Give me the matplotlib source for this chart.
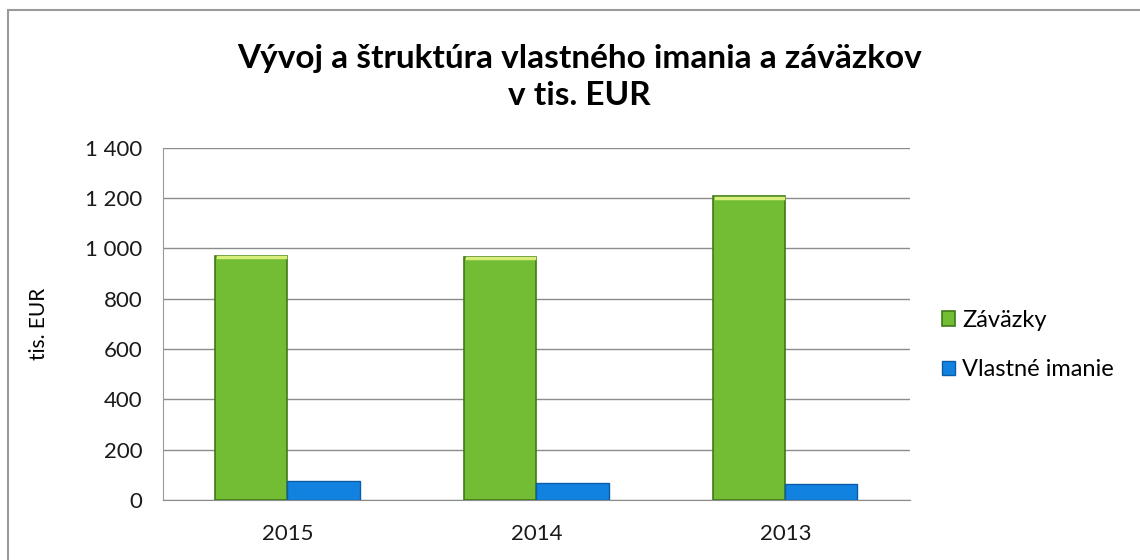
import matplotlib
matplotlib.use("Agg")
import matplotlib.pyplot as plt
import numpy as np
from matplotlib.patches import Rectangle
from matplotlib.ticker import FuncFormatter

plt.rcParams['font.family'] = ['Lato', 'DejaVu Sans']

years = ['2015', '2014', '2013']
zavazky = [972, 968, 1207]
vlastne_imanie = [76, 66, 62]

fig = plt.figure(figsize=(11.4, 5.6), dpi=100)
ax = fig.add_axes([0.143, 0.107, 0.655, 0.629])

x = np.arange(len(years))
w = 0.29
ax.bar(x - w / 2, zavazky, w, color='#72BD34', edgecolor='#3F7A16', linewidth=1.2,
       label='Záväzky', zorder=3)
ax.bar(x + w / 2, vlastne_imanie, w, color='#1282E0', edgecolor='#0B5DA8', linewidth=1.0,
       label='Vlastné imanie', zorder=3)
# light top edge on green bars
for xi, v in zip(x, zavazky):
    ax.plot([xi - w + 0.01, xi - 0.01], [v - 6, v - 6], color='#D8EE7A', lw=2.5, zorder=4)

ax.set_xlim(-0.5, 2.5)
ax.set_ylim(0, 1400)
ax.set_yticks(range(0, 1401, 200))
ax.yaxis.set_major_formatter(FuncFormatter(lambda v, p: f'{int(v):,}'.replace(',', ' ')))
ax.set_xticks(x)
ax.set_xticklabels(years)
ax.tick_params(axis='both', length=0, labelsize=16, colors='#1a1a1a')
ax.tick_params(axis='x', pad=17)
ax.tick_params(axis='y', pad=15)
ax.grid(axis='y', color='#8c8c8c', linewidth=1.0, zorder=0)
for s in ['top', 'right']:
    ax.spines[s].set_visible(False)
ax.spines['left'].set_color('#9a9a9a')
ax.spines['bottom'].set_color('#8c8c8c')
ax.set_ylabel('tis. EUR', fontsize=15, labelpad=26)

fig.text(0.508, 0.862, 'Vývoj a štruktúra vlastného imania a záväzkov\nv tis. EUR',
         ha='center', va='center', fontsize=24, fontweight='bold', linespacing=1.35)

ax.legend(loc='center left', bbox_to_anchor=(1.015, 0.44), frameon=False, fontsize=17,
          handlelength=0.55, handleheight=0.55, handletextpad=0.3, labelspacing=1.2)

fig.patches.append(Rectangle((0.007, -0.01), 1.1, 0.993, transform=fig.transFigure,
                             fill=False, edgecolor='#9a9a9a', linewidth=1.5))

fig.savefig('out.png', dpi=100)
